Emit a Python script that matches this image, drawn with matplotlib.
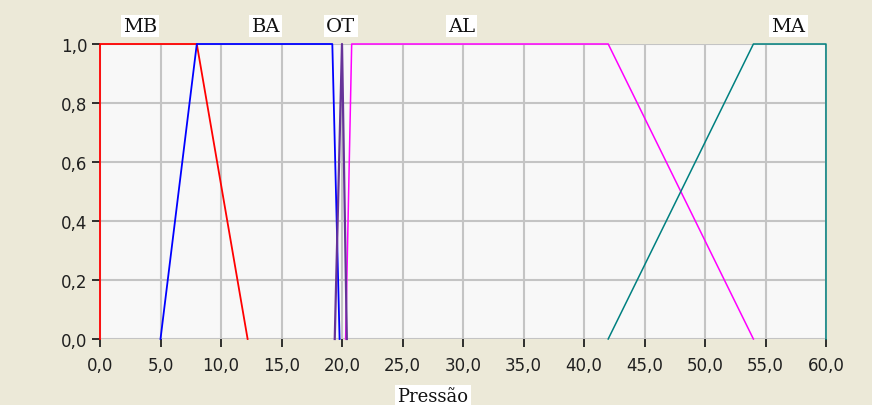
import matplotlib
matplotlib.use("Agg")
import matplotlib.pyplot as plt
import numpy as np

# membership functions (pressure)
mb_x = [0.0, 0.0, 8.0, 12.2]
mb_y = [0.0, 1.0, 1.0, 0.0]
ba_x = [5.0, 8.0, 19.2, 19.8]
ba_y = [0.0, 1.0, 1.0, 0.0]
ot_x = [19.4, 20.0, 20.4]
ot_y = [0.0, 1.0, 0.0]
al_x = [20.3, 20.8, 42.0, 54.0]
al_y = [0.0, 1.0, 1.0, 0.0]
ma_x = [42.0, 54.0, 60.0, 60.0]
ma_y = [0.0, 1.0, 1.0, 0.0]

names = ["MB", "BA", "OT", "AL", "MA"]
name_pos = [3.3, 13.7, 19.9, 29.9, 56.9]

xticks = np.arange(0, 61, 5)
yticks = np.arange(0, 1.01, 0.2)

bg = "#ECE9D8"
fig = plt.figure(figsize=(8.72, 4.06), dpi=100, facecolor=bg)
ax = fig.add_axes([100 / 872, 1 - 340 / 406, 726 / 872, 295 / 406])
ax.set_facecolor("#F8F8F8")

ax.plot(mb_x, mb_y, color="#FF0000", lw=1.3, clip_on=False, zorder=3)
ax.plot(ba_x, ba_y, color="#0000FF", lw=1.3, clip_on=False, zorder=3)
ax.plot(ot_x, ot_y, color="#663399", lw=1.6, clip_on=False, zorder=4)
ax.plot(al_x, al_y, color="#FF00FF", lw=1.1, clip_on=False, zorder=3)
ax.plot(ma_x, ma_y, color="#008080", lw=1.1, clip_on=False, zorder=3)

ax.set_xlim(0, 60)
ax.set_ylim(0, 1)
ax.set_xticks(xticks)
ax.set_yticks(yticks)
ax.set_xticklabels([f"{v:.1f}".replace(".", ",") for v in xticks])
ax.set_yticklabels([f"{v:.1f}".replace(".", ",") for v in yticks])
ax.grid(True, color="#C4C4C4", lw=1.5)
ax.set_axisbelow(True)
for s in ax.spines.values():
    s.set_visible(False)
ax.tick_params(direction="out", length=6, width=1.3, color="#202020",
               labelsize=12, labelcolor="#202020")
ax.tick_params(axis="x", pad=6)
ax.tick_params(axis="y", pad=3)

for n, p in zip(names, name_pos):
    ax.text(p, 1.061, n, ha="center", va="center", fontsize=14,
            family="DejaVu Serif", color="#111111",
            bbox=dict(facecolor="white", edgecolor="none", pad=1.5))

fig.text(433 / 872, 1 - 397 / 406, "Pressão", ha="center", va="center",
         fontsize=13, family="DejaVu Serif", color="#111111",
         bbox=dict(facecolor="white", edgecolor="none", pad=1.5))

fig.savefig("out.png", dpi=100, facecolor=bg)
